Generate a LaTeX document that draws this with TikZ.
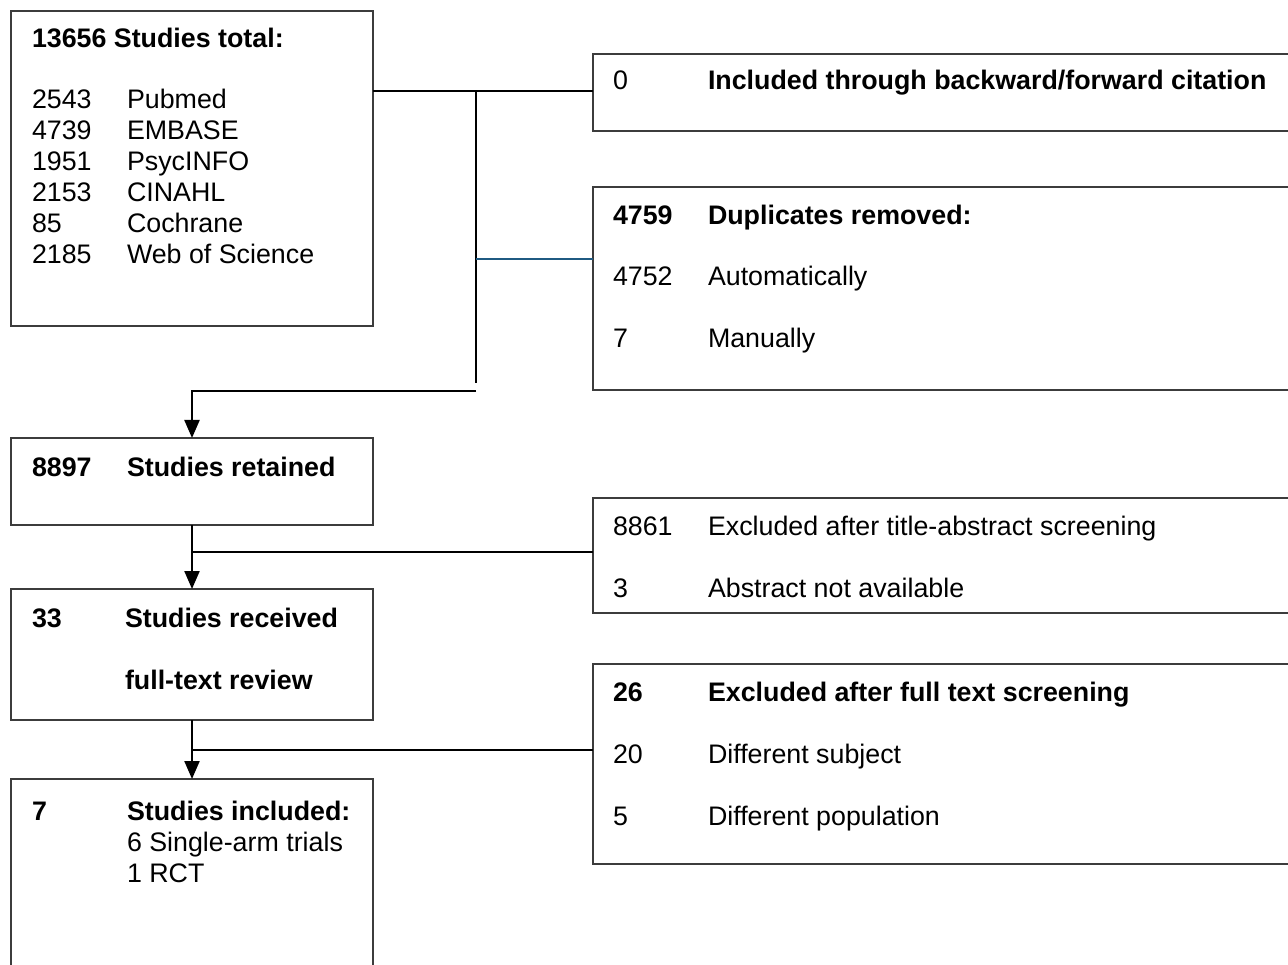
\documentclass[tikz,border=0pt]{standalone}
\usepackage{fontspec}
\setmainfont{Liberation Sans}
\usetikzlibrary{arrows.meta,calc}
\definecolor{boxgray}{RGB}{60,60,60}
\definecolor{linkblue}{RGB}{31,90,130}
\begin{document}
\begin{tikzpicture}[x=1pt,y=-1pt,
  box/.style={draw=boxgray,line width=1.6pt,rectangle,inner sep=0pt,outer sep=0pt,minimum width=362pt},
  rbox/.style={draw=boxgray,line width=1.6pt,rectangle,inner sep=0pt,outer sep=0pt,minimum width=707pt},
  conn/.style={draw=black,line width=2.2pt},
  arr/.style={conn,-{Triangle[width=15pt,length=18pt]}},
  txt/.style={anchor=base west,inner sep=0pt,outer sep=0pt,font=\fontsize{26.8}{32}\selectfont},
  btxt/.style={txt,font=\fontsize{26.8}{32}\selectfont\bfseries}]
\useasboundingbox (0,0) rectangle (1288,965);
\clip (0,0) rectangle (1288,965);
% boxes
\node[box,minimum height=315pt] (b1) at (192,168.5) {};
\node[rbox,minimum height=77pt] (b0) at (946.5,92.5) {};
\node[rbox,minimum height=203pt] (bdup) at (946.5,288.5) {};
\node[box,minimum height=87pt] (bret) at (192,481.5) {};
\node[rbox,minimum height=115pt] (bex1) at (946.5,555.5) {};
\node[box,minimum height=131pt] (bfull) at (192,654.5) {};
\node[rbox,minimum height=200pt] (bex2) at (946.5,764) {};
\node[box,minimum height=211pt] (binc) at (192,884.5) {};
% connectors
\coordinate (j1) at (476,91);
\coordinate (j2) at (476,383);
\coordinate (j3) at (476,259);
\coordinate (j4) at (476,391);
\coordinate (j5) at (192,552);
\coordinate (j6) at (192,750);
\draw[conn] (b1.east |- j1) -- (j1 -| b0.west);
\draw[conn] (j1) -- (j2);
\draw[draw=linkblue,line width=2pt] (j3) -- (j3 -| bdup.west);
\draw[arr] (j4) -| (bret.north);
\draw[arr] (bret.south) -- (bfull.north);
\draw[conn] (j5) -- (j5 -| bex1.west);
\draw[arr] (bfull.south) -- (binc.north);
\draw[conn] (j6) -- (j6 -| bex2.west);
% texts box 1
\node[btxt] (t1) at (32,48) {13656 Studies total:};
\node[txt] (n1) at (32,109) {2543};  \node[txt] (s1) at (127,109) {Pubmed};
\node[txt] (n2) at (32,140) {4739};  \node[txt] (s2) at (127,140) {EMBASE};
\node[txt] (n3) at (32,171) {1951};  \node[txt] (s3) at (127,171) {PsycINFO};
\node[txt] (n4) at (32,202) {2153};  \node[txt] (s4) at (127,202) {CINAHL};
\node[txt] (n5) at (32,233) {85};    \node[txt] (s5) at (127,233) {Cochrane};
\node[txt] (n6) at (32,264) {2185};  \node[txt] (s6) at (127,264) {Web of Science};
% right boxes
\node[txt] (r0n) at (613,90) {0};
\node[btxt] (r0t) at (708,90) {Included through backward/forward citation};
\node[btxt] (r1n) at (613,225) {4759};
\node[btxt] (r1t) at (708,225) {Duplicates removed:};
\node[txt] (r2n) at (613,286) {4752};
\node[txt] (r2t) at (708,286) {Automatically};
\node[txt] (r3n) at (613,348) {7};
\node[txt] (r3t) at (708,348) {Manually};
\node[txt] (e1n) at (613,535) {8861};
\node[txt] (e1t) at (708,535) {Excluded after title-abstract screening};
\node[txt] (e2n) at (613,597) {3};
\node[txt] (e2t) at (708,597) {Abstract not available};
\node[btxt] (f1n) at (613,701) {26};
\node[btxt] (f1t) at (708,701) {Excluded after full text screening};
\node[txt] (f2n) at (613,763) {20};
\node[txt] (f2t) at (708,763) {Different subject};
\node[txt] (f3n) at (613,825) {5};
\node[txt] (f3t) at (708,825) {Different population};
% left boxes
\node[btxt] (rn) at (32,476) {8897};
\node[btxt] (rt) at (127,476) {Studies retained};
\node[btxt] (fn) at (32,627) {33};
\node[btxt] (ft1) at (125,627) {Studies received};
\node[btxt] (ft2) at (125,689) {full-text review};
\node[btxt] (in) at (32,820) {7};
\node[btxt] (it1) at (127,820) {Studies included:};
\node[txt] (it2) at (127,851) {6 Single-arm trials};
\node[txt] (it3) at (127,882) {1 RCT};
\end{tikzpicture}
\end{document}
